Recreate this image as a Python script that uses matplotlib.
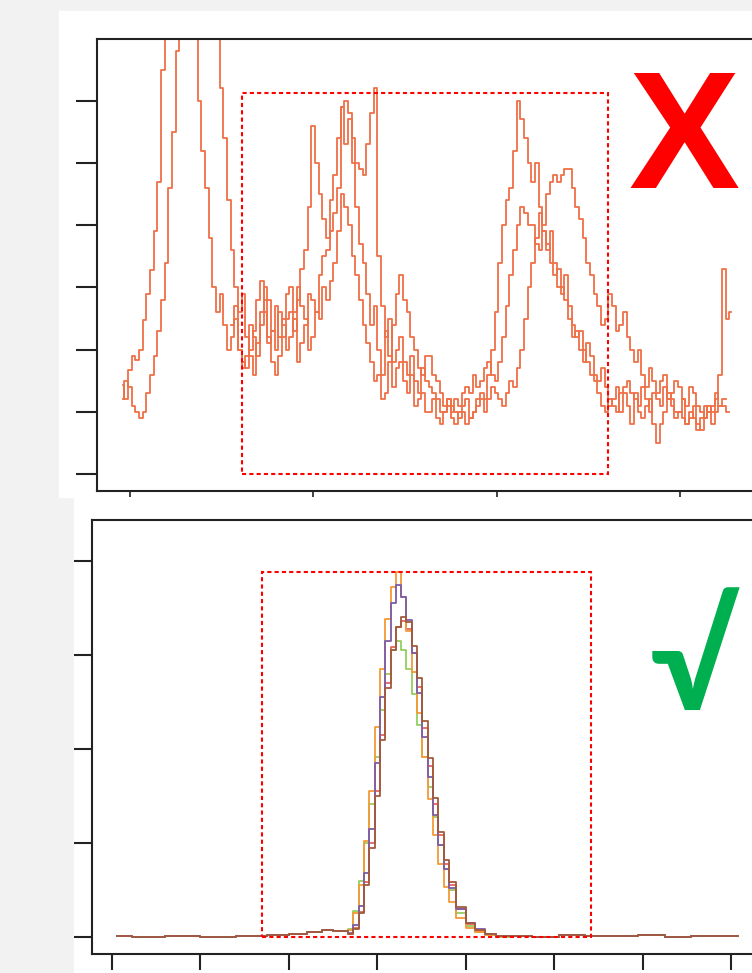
import matplotlib.pyplot as plt
from matplotlib.patches import Rectangle

nan = float('nan')

# ---- top panel: three noisy chromatograms (bad) ----
time_top = [9.6, 9.8, 10.0, 10.2, 10.4, 10.6, 10.8, 11.0, 11.2, 11.4,
            11.6, 11.8, 12.0, 12.2, 12.4, 12.6, 12.8, 13.0, 13.2, 13.4,
            13.6, 13.8, 14.0, 14.2, 14.4, 14.6, 14.8, 15.0, 15.2, 15.4,
            15.6, 15.8, 16.0, 16.2, 16.4, 16.6, 16.8, 17.0, 17.2, 17.4,
            17.6, 17.8, 18.0, 18.2, 18.4, 18.6, 18.8, 19.0, 19.2, 19.4,
            19.6, 19.8, 20.0, 20.2, 20.4, 20.6, 20.8, 21.0, 21.2, 21.4,
            21.6, 21.8, 22.0, 22.2, 22.4, 22.6, 22.8, 23.0, 23.2, 23.4,
            23.6, 23.8, 24.0, 24.2, 24.4, 24.6, 24.8, 25.0, 25.2, 25.4,
            25.6, 25.8, 26.0, 26.2, 26.4, 26.6, 26.8, 27.0, 27.2, 27.4,
            27.6, 27.8, 28.0, 28.2, 28.4, 28.6, 28.8, 29.0, 29.2, 29.4,
            29.6, 29.8, 30.0, 30.2, 30.4, 30.6, 30.8, 31.0, 31.2, 31.4,
            31.6, 31.8, 32.0, 32.2, 32.4, 32.6, 32.8, 33.0, 33.2, 33.4,
            33.6, 33.8, 34.0, 34.2, 34.4, 34.6, 34.8, 35.0, 35.2, 35.4,
            35.6, 35.8, 36.0, 36.2, 36.4, 36.6, 36.8, 37.0, 37.2, 37.4,
            37.6, 37.8, 38.0, 38.2, 38.4, 38.6, 38.8, 39.0, 39.2, 39.4,
            39.6, 39.8, 40.0, 40.2, 40.4, 40.6, 40.8, 41.0, 41.2, 41.4,
            41.6, 41.8, 42.0, 42.2, 42.4, 42.6, 42.8]
trace_a = [1.43, 1.2, 1.67, 1.9, 1.83, 2.0, 2.48, 2.9, 3.28, 3.9,
           4.7, 6.5, 7.6, 7.8, 7.8, 7.8, 7.8, 7.8, 7.6, 7.6,
           7.2, 6.0, 5.2, 4.6, 3.8, 3.0, 2.6, 2.9, 2.4, 2.0,
           2.2, 2.5, 2.0, 1.7, 1.9, 2.4, 2.2, 1.9, 2.4, 2.8,
           2.1, 2.3, 2.7, 2.2, 2.5, 2.9, 3.0, 2.6, 2.8, 3.3,
           3.6, 4.3, 5.6, 5.0, 4.5, 4.1, 3.8, 4.4, 4.8, 5.4,
           5.9, 5.3, 5.7, 5.0, 4.3, 3.7, 3.4, 2.9, 2.4, 2.7,
           2.0, 1.6, 2.3, 1.9, 1.4, 1.7, 1.8, 1.5, 1.3, 1.6,
           1.1, 1.2, 1.3, 1.0, 1.0, 1.2, 0.9, 0.8, 1.0, 1.1,
           0.9, 0.8, 1.0, 1.1, 1.2, 0.9, 1.0, 1.2, 1.3, 1.2,
           1.6, 2.0, 2.6, 3.4, 4.0, 4.4, 4.6, 5.2, 6.0, 5.7,
           5.4, 5.0, 4.7, 5.0, 4.3, 3.9, 3.6, 3.9, 3.4, 3.0,
           2.9, 3.2, 2.5, 2.2, 2.3, 2.0, 1.8, 2.1, 1.9, 1.6,
           1.5, 1.7, 1.4, 1.1, 1.2, 1.4, 1.0, 1.3, 1.1, 0.8,
           1.3, 1.0, 0.9, 1.1, 1.2, 0.8, 0.5, 0.8, 1.0, 1.3,
           1.2, 0.9, 1.0, 1.2, 0.8, 0.9, 1.1, 0.7, 0.9, 1.1,
           1.0, 0.8, 1.2, 1.6, 3.3, 2.5, 2.6]
trace_b = [1.2, 1.5, 1.4, 1.1, 1.0, 0.9, 1.0, 1.3, 1.6, 1.9,
           2.3, 2.8, 3.4, 4.6, 5.5, 6.8, 7.6, 7.8, 7.8, 7.8,
           7.8, 7.8, 7.7, 7.6, 7.5, 7.4, 7.0, 6.2, 5.4, 4.4,
           3.6, 3.0, 2.6, 2.9, 2.2, 1.9, 1.6, 2.1, 2.6, 3.0,
           2.8, 2.3, 2.0, 2.6, 2.4, 2.0, 2.2, 2.5, 1.8, 2.1,
           2.4, 2.9, 2.8, 2.6, 3.2, 3.5, 3.6, 3.9, 4.2, 4.6,
           5.9, 6.0, 5.8, 5.4, 5.0, 4.9, 4.8, 5.3, 5.8, 6.2,
           3.5, 2.7, 2.2, 2.5, 1.8, 2.0, 2.2, 1.8, 1.6, 1.9,
           1.5, 1.3, 1.7, 1.5, 1.4, 1.3, 1.2, 1.0, 1.0, 1.2,
           1.1, 1.0, 0.9, 1.0, 0.8, 0.9, 1.0, 1.1, 1.2, 1.0,
           1.2, 1.4, 1.3, 1.2, 1.1, 1.3, 1.5, 1.4, 1.7, 2.0,
           2.5, 3.0, 3.4, 3.8, 4.2, 4.0, 4.5, 4.7, 4.8, 4.7,
           4.8, 4.9, 4.9, 4.6, 4.3, 4.1, 3.8, 3.4, 3.2, 2.9,
           2.7, 2.4, 2.5, 2.9, 2.7, 2.3, 2.4, 2.6, 2.2, 2.0,
           1.8, 2.0, 1.6, 1.4, 1.7, 1.5, 1.3, 1.5, 1.6, 1.2,
           1.3, 1.5, 1.4, 1.2, 1.1, 1.4, 1.3, 1.1, 1.0, 0.9,
           1.1, 1.0, 1.0, 1.1, 1.1, 1.0, nan]
trace_c = [nan, nan, nan, nan, nan, nan, nan, nan, nan, nan,
           nan, nan, nan, nan, nan, nan, nan, nan, nan, nan,
           nan, nan, nan, nan, nan, nan, nan, nan, nan, nan,
           2.4, 2.7, 2.0, 1.8, 1.7, 2.0, 2.3, 2.8, 3.1, 2.6,
           2.2, 1.8, 1.6, 1.9, 2.2, 2.5, 2.6, 2.3, 3.0, 2.7,
           2.5, 2.0, 2.2, 2.6, 2.5, 3.0, 2.8, 3.1, 3.4, 3.9,
           4.5, 4.3, 4.0, 3.5, 3.2, 2.8, 2.4, 2.1, 1.8, 1.5,
           1.6, 1.2, 1.3, 1.8, 2.4, 2.9, 3.2, 2.8, 2.6, 2.2,
           2.0, 1.7, 1.6, 1.9, 1.9, 1.6, 1.5, 1.3, 1.1, 1.2,
           1.0, 1.2, 1.1, 1.3, 1.4, 1.3, 1.6, 1.4, 1.5, 1.7,
           1.8, 1.6, 1.5, 1.8, 2.2, 2.7, 3.2, 3.6, 4.0, 4.3,
           4.2, 4.0, 4.0, 3.7, 3.6, 3.9, 3.7, 3.4, 3.2, 3.3,
           3.0, 2.8, 2.7, 2.4, 2.2, 2.3, 2.0, 1.8, 1.6, 1.5,
           1.3, 1.1, 1.0, 1.2, 1.1, 1.0, 1.3, 1.4, 1.5, 1.3,
           1.2, 1.1, 1.4, 1.2, 1.0, 1.3, 1.2, 1.1, 1.4, 1.2,
           1.1, 1.0, 1.0, 0.9, 0.8, 1.0, 0.9, 0.8, 0.7, 0.9,
           1.0, 1.1, 1.3, 1.1, 1.2, nan, nan]
top_box = (16.1, 0.0, 36.1, 6.13)   # x0, y0, x1, y1

# ---- bottom panel: five overlaid clean peaks (good) ----
time_bot = [0.3, 2.0, 4.0, 6.0, 8.0, 9.5, 10.5, 11.5, 12.2, 12.8, 13.2,
            13.5, 13.8, 14.1, 14.4, 14.7, 15.0, 15.3, 15.6, 15.9, 16.2,
            16.5, 16.8, 17.1, 17.4, 17.7, 18.0, 18.3, 18.6, 18.9, 19.2,
            19.7, 20.3, 20.8, 21.4, 22.0,
            23.0, 24.5, 26.0, 27.5, 29.0, 30.5, 32.0, 33.5, 35.4]
base_pre = [0.01, 0.0, 0.01, 0.0, 0.01, 0.02, 0.03, 0.05, 0.07, 0.06, 0.06]
base_post = [0.01, 0.0, 0.02, 0.01, 0.01, 0.02, 0.0, 0.01, 0.01]
peak_orange = [0.07, 0.25, 0.55, 1.02, 1.55, 2.23, 2.85, 3.38, 3.72, 3.88,
               3.62, 3.26, 2.82, 2.38, 1.92, 1.47, 1.08, 0.78, 0.53, 0.37,
               0.2, 0.1, 0.05, 0.02, 0.01]
peak_purple = [0.04, 0.13, 0.33, 0.68, 1.15, 1.85, 2.55, 3.15, 3.55, 3.74,
               3.62, 3.37, 3.02, 2.6, 2.13, 1.7, 1.3, 0.98, 0.72, 0.52,
               0.3, 0.15, 0.08, 0.03, 0.01]
peak_brown = [0.03, 0.09, 0.25, 0.55, 0.95, 1.5, 2.1, 2.65, 3.05, 3.3,
              3.4, 3.35, 3.1, 2.75, 2.3, 1.9, 1.48, 1.12, 0.82, 0.58,
              0.32, 0.15, 0.07, 0.03, 0.01]
peak_red = [0.03, 0.1, 0.27, 0.58, 1.0, 1.55, 2.15, 2.7, 3.08, 3.3,
            3.36, 3.28, 3.02, 2.66, 2.22, 1.82, 1.42, 1.08, 0.78, 0.55,
            0.3, 0.14, 0.06, 0.03, 0.01]
peak_green = [0.09, 0.28, 0.6, 1.0, 1.42, 1.92, 2.42, 2.8, 3.05, 3.15,
              3.05, 2.85, 2.58, 2.25, 1.92, 1.6, 1.28, 0.98, 0.72, 0.5,
              0.26, 0.12, 0.05, 0.02, 0.0]
bot_box = (8.5, 0.0, 27.07, 3.88)

bottom_series = [
    (peak_green, '#92CF60'),
    (peak_red, '#E8635B'),
    (peak_orange, '#F59A36'),
    (peak_purple, '#7B5CA8'),
    (peak_brown, '#A25A3C'),
]

W, H = 752, 973
fig = plt.figure(figsize=(W / 100, H / 100), dpi=100, facecolor='#F2F2F2')

# white card behind each panel
fig.add_artist(Rectangle((59 / W, 1 - 497 / H), 693 / W, 486 / H,
                         transform=fig.transFigure, color='white', zorder=0))
fig.add_artist(Rectangle((74 / W, 0), 678 / W, 475 / H,
                         transform=fig.transFigure, color='white', zorder=0))


def style_axes(ax):
    ax.set_facecolor('white')
    for s in ax.spines.values():
        s.set_linewidth(1.5)
        s.set_color('#222222')
    ax.tick_params(labelleft=False, labelbottom=False, direction='out',
                   color='#222222')


def draw_box(ax, box):
    x0, y0, x1, y1 = box
    ax.add_patch(Rectangle((x0, y0), x1 - x0, y1 - y0, fill=False,
                           edgecolor='#FF0000', lw=1.5, ls=(0, (2, 1.5)),
                           zorder=5))


# top axes
ax1 = fig.add_axes([97 / W, 1 - 491 / H, 680 / W, 452 / H])
style_axes(ax1)
for tr in (trace_a, trace_b, trace_c):
    ax1.step(time_top, tr, where='mid', color='#EF7047', lw=1.3)
draw_box(ax1, top_box)
ax1.set_xlim(8.2, 45.3)
ax1.set_ylim(-0.273, 6.994)
ax1.set_yticks([0, 1, 2, 3, 4, 5, 6])
ax1.set_xticks([10, 20, 30, 40])
ax1.tick_params(axis='y', length=15, width=1.5)
ax1.tick_params(axis='x', length=4, width=1.2)

# bottom axes
ax2 = fig.add_axes([92 / W, 1 - 954 / H, 685 / W, 434 / H])
style_axes(ax2)
for peak, col in bottom_series:
    ax2.step(time_bot, base_pre + peak + base_post, where='mid', color=col, lw=1.3)
draw_box(ax2, bot_box)
ax2.set_xlim(-1.13, 37.6)
ax2.set_ylim(-0.181, 4.436)
ax2.set_yticks([0, 1, 2, 3, 4])
ax2.set_xticks([0, 5, 10, 15, 20, 25, 30, 35])
ax2.tick_params(axis='y', length=13, width=1.5)
ax2.tick_params(axis='x', length=11.5, width=1.5)

# verdict marks
fig.text(684 / W, 1 - 145 / H, 'X', color='#FF0000', fontsize=120,
         fontweight='bold', family=['Liberation Sans Narrow', 'Liberation Sans'],
         ha='center', va='center')
fig.text(695 / W, 1 - 668 / H, '\u221a', color='#00B050', fontsize=104,
         fontweight='bold', family=['Lato', 'DejaVu Sans'],
         ha='center', va='center')

fig.savefig('out.png', dpi=100, facecolor=fig.get_facecolor())
